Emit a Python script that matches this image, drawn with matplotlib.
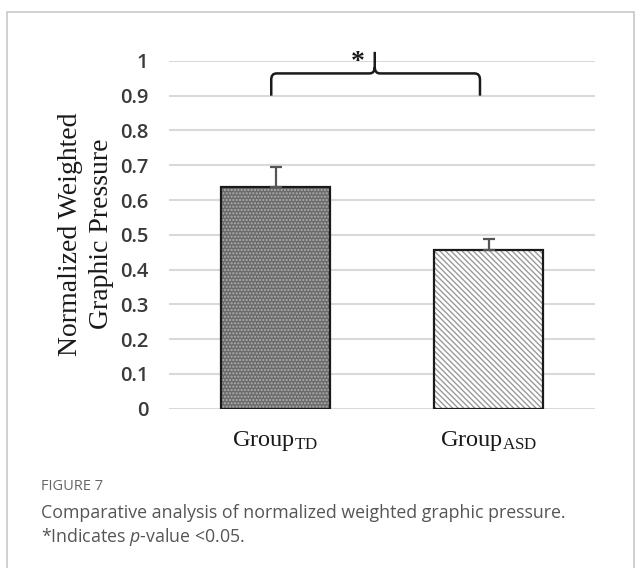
import matplotlib
matplotlib.use("Agg")
import matplotlib.pyplot as plt
from matplotlib.path import Path
from matplotlib.patches import PathPatch, Rectangle

# ---- data ----
groups = ["TD", "ASD"]
means = [0.637, 0.455]
errors = [0.058, 0.033]
yticks = [0, 0.1, 0.2, 0.3, 0.4, 0.5, 0.6, 0.7, 0.8, 0.9, 1]
ytick_labels = ["0", "0.1", "0.2", "0.3", "0.4", "0.5", "0.6", "0.7", "0.8", "0.9", "1"]
ylabel = "Normalized Weighted\nGraphic Pressure"
sig_mark = "*"
caption_head = "FIGURE 7"
caption_line1 = "Comparative analysis of normalized weighted graphic pressure."
caption_line2 = r"*Indicates $p$-value <0.05."

plt.rcParams['mathtext.fontset'] = 'custom'
plt.rcParams['mathtext.rm'] = 'Liberation Serif'
plt.rcParams['mathtext.it'] = 'Open Sans:italic'

W, H = 641, 568
fig = plt.figure(figsize=(W / 100, H / 100), dpi=100)
fig.patch.set_facecolor("white")

# frame around figure + caption
fig.add_artist(Rectangle((7 / W, -0.05), (634 - 7) / W, 1.05 - 12 / H,
                         transform=fig.transFigure, fill=False,
                         edgecolor="#c8c8c8", linewidth=1.2))

ax = fig.add_axes([169 / W, 1 - 408.7 / H, (595 - 169) / W, (408.7 - 60.9) / H])
ax.set_xlim(-0.5, 1.5)
ax.set_ylim(0, 1)
for s in ax.spines.values():
    s.set_visible(False)
ax.set_yticks(yticks)
ax.set_yticklabels(ytick_labels, fontfamily="Open Sans", fontsize=14.5,
                   color="#3a3a3a", fontweight="semibold")
ax.tick_params(axis="y", length=0, pad=15)
ax.set_xticks([])
ax.yaxis.grid(True, color="#d9d9d9", linewidth=1.5)
ax.set_axisbelow(True)

x = list(range(len(groups)))
width = 0.51
face = ["#6b6b6b", "white"]
hatch_col = ["#b0b0b0", "#9a9a9a"]
hatches = [".....", "\\\\\\\\\\\\"]
for i in x:
    ax.bar(i, means[i], width=width, color=face[i], edgecolor=hatch_col[i],
           hatch=hatches[i], linewidth=0, zorder=2)
    ax.bar(i, means[i], width=width, fill=False, edgecolor="#1a1a1a",
           linewidth=1.6, zorder=3)
ax.errorbar(x, means, yerr=[[0] * len(errors), errors], fmt="none",
            ecolor="#555555", elinewidth=1.6, capsize=4, capthick=1.6, zorder=4)

# x category labels
for i, g in enumerate(groups):
    ax.text(i, -0.093, r"Group$_{\mathrm{%s}}$" % g, ha="center", va="center",
            fontfamily="Liberation Serif", fontsize=17.5, color="#1a1a1a",
            clip_on=False)

# y label
fig.text(86 / W, 1 - 234 / H, ylabel, rotation=90, ha="center", va="center",
         multialignment="center", fontfamily="Liberation Serif", fontsize=20,
         color="#1a1a1a", linespacing=1.3)

# significance brace
bl, br, tip = -0.02, 0.96, 0.466
ybot, ymid, ytop = 0.9, 0.964, 1.026
rx, ry = 0.025, 0.018
verts = [(bl, ybot), (bl, ymid - ry), (bl, ymid), (bl + rx, ymid),
         (tip - rx, ymid), (tip, ymid), (tip, ymid + ry), (tip, ytop),
         (tip, ymid + ry), (tip, ymid), (tip + rx, ymid),
         (br - rx, ymid), (br, ymid), (br, ymid - ry), (br, ybot)]
codes = [Path.MOVETO, Path.LINETO, Path.CURVE3, Path.CURVE3,
         Path.LINETO, Path.CURVE3, Path.CURVE3, Path.LINETO,
         Path.MOVETO, Path.CURVE3, Path.CURVE3,
         Path.LINETO, Path.CURVE3, Path.CURVE3, Path.LINETO]
ax.add_patch(PathPatch(Path(verts, codes), fill=False, edgecolor="#1a1a1a",
                       linewidth=1.8, clip_on=False, zorder=5))
ax.text(0.386, 0.995, sig_mark, ha="center", va="center", fontsize=20,
        fontfamily="Liberation Serif", fontweight="bold", color="#1a1a1a",
        clip_on=False)

# caption
fig.text(41 / W, 1 - 487 / H, caption_head, ha="left", va="center",
         fontfamily="Open Sans", fontsize=10.5, color="#666666")
fig.text(41 / W, 1 - 513 / H, caption_line1, ha="left", va="center",
         fontfamily="Open Sans", fontsize=12.8, color="#555555")
fig.text(41 / W, 1 - 537 / H, caption_line2, ha="left", va="center",
         fontfamily="Open Sans", fontsize=12.8, color="#555555")

fig.savefig("out.png", dpi=100, facecolor="white")
